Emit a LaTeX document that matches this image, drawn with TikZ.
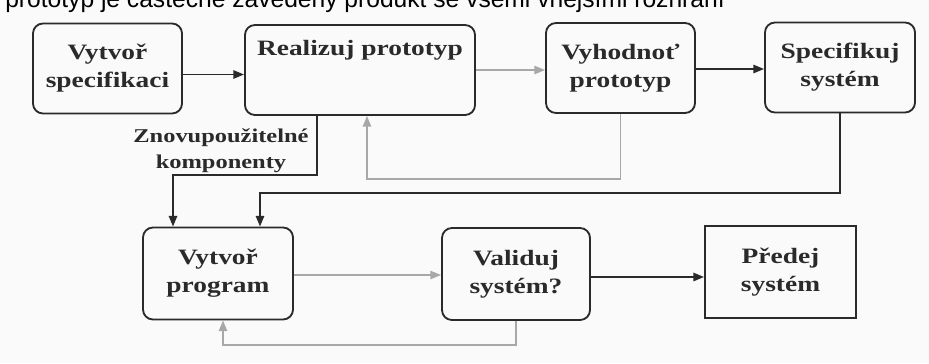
\documentclass[tikz,border=0pt]{standalone}
\usepackage{fontspec}
\setmainfont{Liberation Serif}
\newfontfamily\wideserif[FakeStretch=1.25]{Liberation Serif}
\newfontfamily\topsans{Liberation Sans}
\usetikzlibrary{arrows.meta}
\definecolor{ink}{HTML}{2A2A2A}
\definecolor{pale}{HTML}{A8A8A8}
\definecolor{paper}{HTML}{FAFAFA}

\begin{document}
\begin{tikzpicture}[x=0.025cm, y=-0.025cm,
    >={Triangle[length=0.27cm,width=0.21cm]},
    stage/.style = {
      draw = ink,
      line width = 1.3pt,
      rounded corners = 0.25cm,
      text = ink,
      align = center,
      inner sep = 0pt,
      minimum width = 3.725cm,
      minimum height = 2.25cm,
      font = \wideserif\bfseries\fontsize{15.6}{19.9}\selectfont
    },
    flow/.style = {->, draw = ink, line width = 1.3pt},
    back/.style = {->, draw = pale, line width = 1.1pt}
  ]
  \useasboundingbox[fill=paper] (0,0) rectangle (929,363);

  % cut-off caption line
  \node[anchor=base west, inner sep=0pt, text=black,
    font=\topsans\fontsize{17.5}{21}\selectfont] (caption) at (5,7)
    {prototyp je částečně zavedený produkt se všemi vnějšími rozhraní};

  % top row
  \node[stage] (spec) at (107.5,68.5) {Vytvoř\\specifikaci};
  \node[stage, minimum width=5.75cm,
    label={[anchor=north, yshift=-0.28cm, text=ink,
      font=\wideserif\bfseries\fontsize{15.6}{19.9}\selectfont]north:Realizuj prototyp}]
    (realize) at (360,70) {};
  \node[stage] (evaluate) at (620.5,68) {Vyhodnoť\\prototyp};
  \node[stage, minimum width=3.75cm] (specify) at (840,67.5) {Specifikuj\\systém};

  % bottom row
  \node[stage, minimum width=3.75cm, minimum height=2.3cm] (program) at (218,273.5) {Vytvoř\\program};
  \node[stage, minimum width=3.7cm, minimum height=2.3cm] (validate) at (516,274) {Validuj\\systém?};
  \node[stage, rounded corners=0pt, minimum width=3.775cm, minimum height=2.3cm] (deliver) at (780.5,272) {Předej\\systém};

  \node[text=ink, align=center,
    font=\wideserif\bfseries\fontsize{13.9}{18.5}\selectfont] (reuse) at (221,151)
    {Znovupoužitelné\\komponenty};

  \coordinate (fbtop) at (367,179);
  \coordinate (reuseA) at (317,175);
  \coordinate (reuseB) at (173,175);
  \coordinate (specB) at (260,193);
  \coordinate (fbbot) at (223,345);

  % connectors
  \draw[flow] ([yshift=-0.15cm]spec.east) -- ([yshift=-0.15cm]spec.east -| realize.west);
  \draw[back] (realize.east |- 0,70) -- (evaluate.west |- 0,70);
  \draw[flow] (evaluate.east |- 0,69) -- (specify.west |- 0,69);
  \draw[back] (evaluate.south) |- (fbtop) -- (fbtop |- realize.south);

  \draw[flow] (reuseA |- realize.south) -- (reuseA) -- (reuseB) -- (reuseB |- program.north);
  \draw[flow] (specify.south) |- (specB) -- (specB |- program.north);

  \draw[back] (program.east |- 0,275) -- (validate.west |- 0,275);
  \draw[flow] (validate.east |- 0,277) -- (deliver.west |- 0,277);
  \draw[back] (validate.south) |- (fbbot) -- (fbbot |- program.south);
\end{tikzpicture}
\end{document}
